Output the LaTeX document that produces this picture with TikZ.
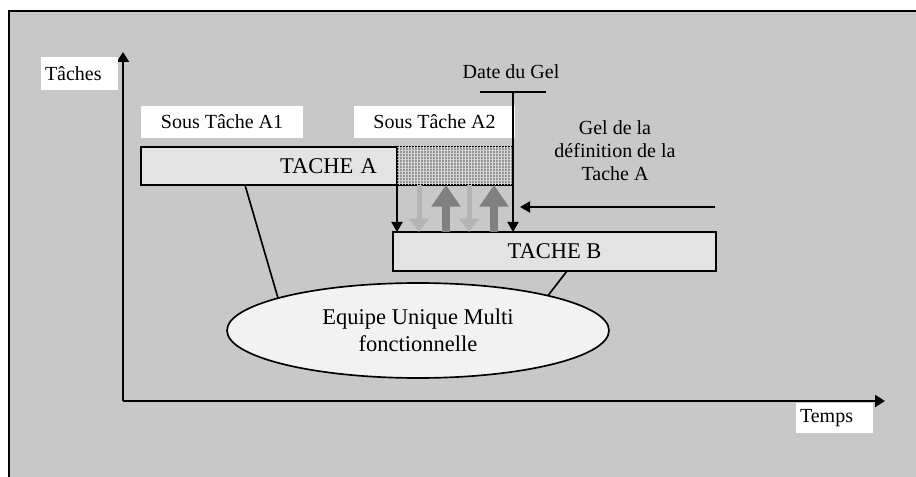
\documentclass[tikz,border=0pt]{standalone}
\usepackage{fontspec}
\setmainfont{Liberation Serif}
\usetikzlibrary{arrows.meta,shapes.geometric,patterns.meta,positioning}
\definecolor{fond}{RGB}{200,200,200}
\definecolor{gristache}{RGB}{227,227,227}
\definecolor{grisbulle}{RGB}{242,242,242}
\definecolor{grishachure}{RGB}{150,150,150}
\definecolor{lignehachure}{RGB}{215,215,215}
\definecolor{flecheclaire}{RGB}{180,180,180}
\definecolor{flechefoncee}{RGB}{128,128,128}
\begin{document}
\begin{tikzpicture}[x=0.6pt,y=-0.6pt,every node/.style={outer sep=0pt},
  etiquette/.style={fill=white, inner ysep=0pt, font=\fontsize{12}{14}\selectfont},
  tache/.style={draw=black, line width=1pt, fill=gristache, minimum height=22.8pt, inner sep=0pt, font=\fontsize{13.5}{16}\selectfont},
  axe/.style={line width=1.3pt, -{Triangle[width=7.2pt,length=6pt]}},
  gel/.style={line width=1.1pt, -{Triangle[width=6.6pt,length=6pt]}},
  claire/.style={draw=flecheclaire, line width=3pt, -{Triangle[width=11.4pt,length=8pt]}},
  foncee/.style={draw=flechefoncee, line width=5pt, -{Triangle[width=16.8pt,length=13pt]}}]
\useasboundingbox (0,0) rectangle (916,477);
\fill[fond] (9,11) rectangle (916,477);
\draw[line width=0.7pt] (9,477) |- (916,11);
% axes
\coordinate (origine) at (123,401);
\coordinate (hautY) at (123,52);
\coordinate (finX) at (885,401);
\draw[axe] (origine) -- (hautY);
\draw[axe] (origine) -- (finX);
\node[etiquette, text width=41.4pt, inner xsep=2.4pt, minimum height=19.8pt, align=left] (taches) at (79.5,73.5) {Tâches};
\node[etiquette, text width=41.4pt, inner xsep=2.4pt, minimum height=18pt, align=left] (temps) at (834.5,418) {Temps};
% taches
\node[etiquette, minimum width=97.2pt, minimum height=19.2pt] (sousA1) at (222,122) {Sous Tâche A1};
\node[etiquette, minimum width=96.6pt, minimum height=19.2pt] (sousA2) at (434.5,122) {Sous Tâche A2};
\node[tache, text width=129.6pt, inner xsep=12pt, align=right] (tacheA) at (269,166) {TACHE A};
\node[tache, minimum width=69.6pt, fill=grishachure, postaction={pattern={Hatch[distance=1.8pt,angle=0,line width=0.5pt]}, pattern color=lignehachure}, right=0pt of tacheA] (gelA) {};
\node[tache, minimum width=193.8pt, minimum height=23.4pt] (tacheB) at (554.5,251.5) {TACHE B};
% gel
\node[font=\fontsize{12}{14}\selectfont] (dateGel) at (511,72) {Date du Gel};
\node[align=center, font=\fontsize{12}{13.8}\selectfont] (gelTexte) at (615,151) {Gel de la\\définition de la\\Tache A};
\coordinate (gelHaut) at (gelA.east |- 0,92);
\coordinate (gelDroite) at (715,207);
\draw[line width=1.1pt] (480,92) -- (546,92);
\draw[gel] (gelHaut) -- (gelHaut |- tacheB.north);
\draw[gel] (tacheA.south east) -- (tacheA.south east |- tacheB.north);
\draw[gel, shorten >=4.2pt] (gelDroite) -- (gelHaut |- gelDroite);
\foreach \x in {419,469}
  \draw[claire] (\x,0 |- gelA.south) -- (\x,0 |- tacheB.north);
\foreach \x in {446,494}
  \draw[foncee] (\x,0 |- tacheB.north) -- (\x,0 |- gelA.south);
% equipe
\node[ellipse, draw, line width=1pt, fill=grisbulle, minimum width=229.2pt, minimum height=57pt, inner sep=0pt, align=center, font=\fontsize{13.5}{16.2}\selectfont] (equipe) at (418,330.5) {Equipe Unique Multi\\fonctionnelle};
\draw[line width=1pt] (245,0 |- tacheA.south) -- (equipe.167);
\draw[line width=1pt] (567,0 |- tacheB.south) -- (equipe.15);
\end{tikzpicture}
\end{document}
